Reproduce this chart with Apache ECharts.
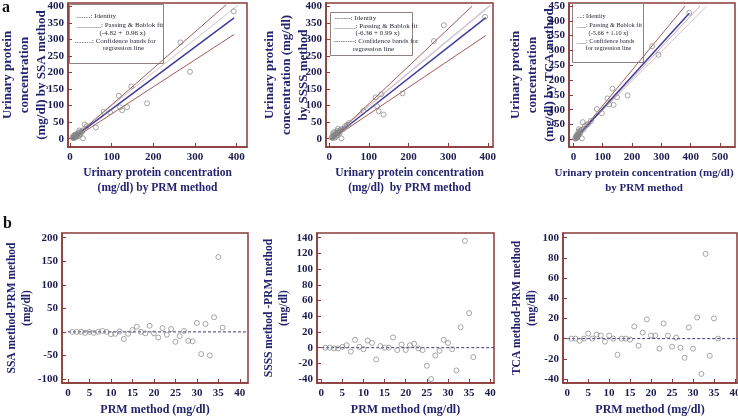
<!DOCTYPE html>
<html><head><meta charset="utf-8">
<script src="https://cdn.jsdelivr.net/npm/echarts@6/dist/echarts.min.js"></script>
<style>html,body{margin:0;padding:0;background:#fff}#c{width:738px;height:418px}</style>
</head><body><div id="c"></div>
<script>
// ---------- DATA ----------
// top panels: [PRM, method]
const ssaPairs = [[393,385],[265,291],[288,202],[147,158],[117,130],[185,107],[120,95],[125,86],[137,95],[81,81],[96,80],[62,34],[35,43],[22,25],[31,1],[10,3],[12,6],[15,10],[18,14],[20,18],[8,2],[14,4],[25,15],[28,20],[16,8],[11,11],[6,5],[19,8],[30,25],[13,13],[9,9],[17,12],[22,10],[7,3],[24,20],[40,38]];
const ssssPairs = [[393,368],[289,343],[264,295],[185,137],[131,134],[117,125],[121,98],[125,83],[137,73],[86,84],[31,1],[22,30],[10,17],[13,20],[15,12],[18,15],[20,10],[25,22],[28,25],[35,30],[40,38],[8,5],[12,8],[14,3],[16,14],[19,19],[24,18],[30,28],[11,12],[9,2],[17,6],[21,24],[26,16],[6,4],[45,42],[50,47]];
const tcaPairs = [[395,427],[268,314],[290,285],[185,148],[133,171],[116,138],[149,142],[137,116],[122,118],[80,102],[97,88],[32,58],[19,34],[29,3],[10,5],[12,10],[15,15],[18,20],[22,25],[25,30],[35,35],[40,45],[50,52],[8,3],[14,8],[16,12],[20,18],[24,22],[28,32],[6,2],[11,14],[13,6],[45,48],[60,62],[9,9],[17,26]];

// reference lines (endpoints)
const ssaIdentity = [[0,0],[403,403]];
const ssaFit = [[5,0],[394,365]];
const ssaUpper = [[5,-2],[375,405]];
const ssaLower = [[8,0],[394,315]];
const ssssIdentity = [[0,0],[406,403]];
const ssssFit = [[6,0],[395,366]];
const ssssUpper = [[5,-2],[360,400]];
const ssssLower = [[8,0],[395,312]];
const tcaIdentity = [[0,0],[455,450]];
const tcaFit = [[5,0],[395,425]];
const tcaUpper = [[5,0],[381,450]];
const tcaLower = [[6,0],[432,450]];

// bottom panels: sample number and differences
const sampleNo = [1,2,3,4,5,6,7,8,9,10,11,12,13,14,15,16,17,18,19,20,21,22,23,24,25,26,27,28,29,30,31,32,33,34,35,36];
const ssaDiff = [0,0,0,-2,0,-2,0,2,0,-5,-4,1,-15,-4,4,11,0,-3,13,-3,-12,8,-6,6,-21,-9,2,-19,-20,19,-47,17,-50,31,159,9];
const ssssDiff = [0,0,-1,-1,1,3,-5,10,1,-2,9,6,-15,2,0,0,13,-3,4,-3,3,5,-1,-3,-23,-40,-10,-4,10,6,-2,-29,26,136,44,-12];
const tcaDiff = [0,0,-2,0,5,0,4,3,-3,3,0,-16,0,0,-1,12,-7,6,19,3,3,-10,15,3,-8,1,-9,-19,11,-10,21,-35,84,-17,20,0];
const zeroLineX = [0, 42];

// tick labels
const topXTicks = [0,100,200,300,400];
const topXTicks3 = [0,100,200,300,400,500];
const topYTicks = [0,50,100,150,200,250,300,350,400];
const topYTicks3 = [0,50,100,150,200,250,300,350,400,450];
const botXTicks = [0,5,10,15,20,25,30,35,40];
const b1YTicks = [-100,-50,0,50,100,150,200];
const b2YTicks = [-40,-20,0,20,40,60,80,100,120,140];
const b3YTicks = [-40,-20,0,20,40,60,80,100];

// ---------- CHART ----------
const FONT = '"Liberation Serif","DejaVu Serif",serif';
const FRAME = '#8b3b3b';
const NAVY = '#23236e';
const LBL = '#1c1c4e';

function axis(gi, min, max, labels, name, gap, isY, nameSize, nameLH, namePad) {
  return {
    type: 'value', gridIndex: gi, min: min, max: max, scale: true,
    name: name, nameLocation: 'middle', nameGap: gap, nameMoveOverlap: false,
    nameRotate: isY ? 90 : 0,
    nameTextStyle: {fontFamily: FONT, fontWeight: 'bold', fontSize: nameSize, color: NAVY, lineHeight: nameLH, padding: namePad || 0},
    axisLine: {show: true, onZero: false, lineStyle: {color: FRAME, width: 1.5}},
    axisTick: {show: true, inside: true, length: 4, customValues: labels, lineStyle: {color: FRAME}},
    axisLabel: {customValues: labels, fontFamily: FONT, fontWeight: 'bold', fontSize: 11, color: LBL, margin: isY ? 4 : 5},
    splitLine: {show: false}
  };
}

const grids = [
  {left: 68, top: 3, width: 179, height: 144},
  {left: 326, top: 3, width: 167, height: 144},
  {left: 569, top: 3, width: 166, height: 144},
  {left: 62, top: 233, width: 186, height: 150},
  {left: 317, top: 233, width: 177, height: 150},
  {left: 563, top: 233, width: 174, height: 150}
].map(g => Object.assign({show: true, borderColor: FRAME, borderWidth: 1.5, containLabel: false, outerBoundsMode: 'none'}, g));

const xAxes = [
  axis(0, -5, 425, topXTicks, 'Urinary protein concentration\n(mg/dl) by PRM method', 19, false, 11.5, 15),
  axis(1, -8, 413, topXTicks, 'Urinary protein concentration\n(mg/dl)  by PRM method', 19, false, 11.5, 15),
  axis(2, -15, 551, topXTicks3, 'Urinary protein concentration (mg/dl)\nby PRM method', 19, false, 11, 15, [0, 16, 0, 0]),
  axis(3, -1.4, 41.9, botXTicks, 'PRM method (mg/dl)', 19, false, 12, 15),
  axis(4, -1, 40.9, botXTicks, 'PRM method (mg/dl)', 19, false, 12, 15),
  axis(5, -1, 40.5, botXTicks, 'PRM method (mg/dl)', 19, false, 12, 15)
];
const yAxes = [
  axis(0, -25, 410, topYTicks, 'Urinary protein\nconcentration\n(mg/dl) by SSA method', 18, true, 13, 17),
  axis(1, -25, 410, topYTicks, 'Urinary protein\nconcentration (mg/dl)\nby SSSS method', 14, true, 13, 17),
  axis(2, -26, 460, topYTicks3, 'Urinary protein\nconcentration\n(mg/dl) by TCA method', 11, true, 13, 17),
  axis(3, -108.5, 210, b1YTicks, 'SSA method-PRM method\n(mg/dl)', 27, true, 11.5, 15),
  axis(4, -45, 146, b2YTicks, 'SSSS method -PRM method\n(mg/dl)', 25, true, 11.5, 15),
  axis(5, -44, 104.7, b3YTicks, 'TCA method-PRM method\n(mg/dl)', 23, true, 11.5, 15)
];

function scatter(i, data) {
  return {type: 'scatter', xAxisIndex: i, yAxisIndex: i, data: data, symbol: 'circle', symbolSize: 5,
    itemStyle: {color: 'rgba(255,255,255,0)', borderColor: '#858585', borderWidth: 0.9}, z: 5, silent: true};
}
function line(i, data, color, width, type) {
  return {type: 'line', xAxisIndex: i, yAxisIndex: i, data: data, symbol: 'none', clip: true,
    lineStyle: {color: color, width: width, type: type || 'solid'}, z: 3, silent: true};
}
function zip(xs, ys) { return xs.map((x, k) => [x, ys[k]]); }
function zero(i) { return line(i, zeroLineX.map(x => [x, 0]), '#3a3a7a', 1, [3, 2]); }

const series = [
  line(0, ssaIdentity, '#cfc4c8', 1), line(0, ssaUpper, '#a65a55', 1), line(0, ssaLower, '#a65a55', 1), line(0, ssaFit, '#3c3c9c', 1.5), scatter(0, ssaPairs),
  line(1, ssssIdentity, '#cfc4d0', 1.5), line(1, ssssUpper, '#a65a55', 1), line(1, ssssLower, '#a65a55', 1), line(1, ssssFit, '#3c3c9c', 1.5), scatter(1, ssssPairs),
  line(2, tcaIdentity, '#cdc4cc', 1), line(2, tcaUpper, '#a0605a', 1), line(2, tcaLower, '#d7a6a6', 1), line(2, tcaFit, '#3c3c9c', 1.5), scatter(2, tcaPairs),
  zero(3), scatter(3, zip(sampleNo, ssaDiff)),
  zero(4), scatter(4, zip(sampleNo, ssssDiff)),
  zero(5), scatter(5, zip(sampleNo, tcaDiff))
];

function legendBox(x, y, w, h, fs, lines) {
  const children = [{type: 'rect', shape: {x: 0, y: 0, width: w, height: h},
    style: {fill: '#fff', stroke: '#8f7f7f', lineWidth: 1}}];
  lines.forEach(l => children.push({type: 'text', x: l[1], y: l[2],
    style: {text: l[0], fontFamily: FONT, fontSize: fs, fill: '#2a2a3a', align: l[3] || 'left', verticalAlign: 'middle'}}));
  return {type: 'group', left: x, top: y, z: 20, children: children};
}

const graphic = [
  {type: 'text', left: 2, top: 0, style: {text: 'a', fontFamily: FONT, fontWeight: 'bold', fontSize: 16, fill: '#111'}},
  {type: 'text', left: 3, top: 216, style: {text: 'b', fontFamily: FONT, fontWeight: 'bold', fontSize: 16, fill: '#111'}},
  legendBox(69, 4, 94, 59, 7, [
    ['........: Identity', 7, 12], ['_______: Passing & Bablok fit', 7, 21], ['(-4.82 +  0.96 x)', 53, 29, 'center'],
    ['..........: Confidence bands for', 5, 37], ['regression line', 54, 44, 'center']]),
  legendBox(330, 12, 82, 43, 7, [
    ['-------: Identity', 4, 6], ['______: Passing & Bablok fit', 4, 14], ['(-6.36 + 0.99 x)', 47, 21, 'center'],
    ['---------: Confidence bands for', 3, 29], ['regression line', 43, 37, 'center']]),
  legendBox(572, 3, 71, 59, 6.3, [
    ['....: Identity', 4, 13], ['___: Passing & Bablok fit', 4, 22], ['(-5.66 + 1.10 x)', 36, 30, 'center'],
    ['___: Confidence bands', 4, 38], ['for regression line', 36, 45, 'center']])
];

const chart = echarts.init(document.getElementById('c'), null, {renderer: 'canvas'});
chart.setOption({
  backgroundColor: '#fff', animation: false,
  grid: grids, xAxis: xAxes, yAxis: yAxes, series: series, graphic: graphic
});
</script></body></html>
